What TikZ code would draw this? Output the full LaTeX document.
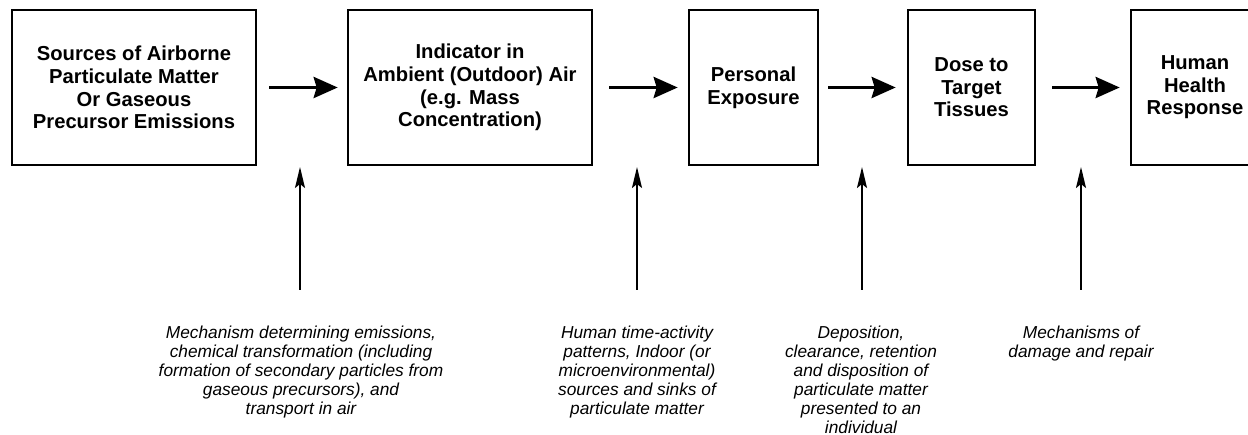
\documentclass[tikz,border=0pt]{standalone}
\usepackage{fontspec}
\setmainfont{Liberation Sans}
\usetikzlibrary{arrows.meta}
\newcommand{\notefont}{\fontsize{17.3}{19}\selectfont\itshape}
\begin{document}
\begin{tikzpicture}[x=1pt,y=-1pt,
  box/.style={draw, line width=2.6pt, minimum height=155pt, align=center, inner sep=0pt,
    font=\fontsize{20.2}{22.6}\selectfont\bfseries},
  harrow/.style={line width=3.5pt, -{Stealth[length=24pt,width=21pt,inset=3pt]}},
  varrow/.style={line width=2pt, -{Stealth[length=21pt,width=10pt,inset=4pt]}},
  note/.style={align=center, inner sep=0pt, anchor=north, font=\notefont}
]
\useasboundingbox (0,0) rectangle (1248,435);
% boxes
\node[box, minimum width=244pt] (b1) at (134,87.5) {Sources of Airborne\\Particulate Matter\\Or Gaseous\\Precursor Emissions};
\node[box, minimum width=244pt] (b2) at (470,87.5) {Indicator in\\Ambient (Outdoor) Air\\(e.g. Mass\\Concentration)};
\node[box, minimum width=129pt] (b3) at (753.5,87.5) {Personal\\Exposure};
\node[box, minimum width=127pt] (b4) at (971.5,87.5) {Dose to\\Target\\Tissues};
\node[box, minimum width=128pt] (b5) at (1195,87.5) {Human\\Health\\Response};
% horizontal arrows
\draw[harrow, shorten <=12pt, shorten >=9pt] (b1.east) -- (b2.west);
\draw[harrow, shorten <=16pt, shorten >=10pt] (b2.east) -- (b3.west);
\draw[harrow, shorten <=9pt, shorten >=11pt] (b3.east) -- (b4.west);
\draw[harrow, shorten <=16pt, shorten >=10pt] (b4.east) -- (b5.west);
% vertical arrows
\coordinate (u1) at (300,167); \coordinate (d1) at (300,290);
\coordinate (u2) at (637,167); \coordinate (d2) at (637,290);
\coordinate (u3) at (862,167); \coordinate (d3) at (862,290);
\coordinate (u4) at (1081,167); \coordinate (d4) at (1081,290);
\draw[varrow] (d1) -- (u1);
\draw[varrow] (d2) -- (u2);
\draw[varrow] (d3) -- (u3);
\draw[varrow] (d4) -- (u4);
% notes
\node[note] (n1) at (301,326) {Mechanism determining emissions,\\chemical transformation (including\\formation of secondary particles from\\gaseous precursors), and\\transport in air};
\node[note] (n2) at (637,326) {Human time-activity\\patterns, Indoor (or\\microenvironmental)\\sources and sinks of\\particulate matter};
\node[note] (n3) at (861,326) {Deposition,\\clearance, retention\\and disposition of\\particulate matter\\presented to an\\individual};
\node[note] (n4) at (1081,326) {Mechanisms of\\damage and repair};
\end{tikzpicture}
\end{document}
